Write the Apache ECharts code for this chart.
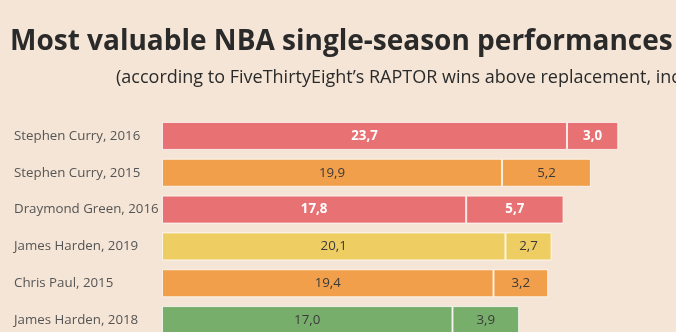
<!DOCTYPE html>
<html><head><meta charset="utf-8">
<script src="https://cdn.jsdelivr.net/npm/echarts@6/dist/echarts.min.js"></script>
<style>html,body{margin:0;padding:0;background:#f5e5d6;}#c{width:676px;height:332px;}</style>
</head><body><div id="c"></div>
<script>
const players = ["Stephen Curry, 2016","Stephen Curry, 2015","Draymond Green, 2016","James Harden, 2019","Chris Paul, 2015","James Harden, 2018"];
const regularSeason = [23.7, 19.9, 17.8, 20.1, 19.4, 17.0];
const playoffs = [3.0, 5.2, 5.7, 2.7, 3.2, 3.9];
const rowColors = ["#e87273","#f19f4b","#e87273","#eecd63","#f19f4b","#78ae6c"];
const lightText = ["#ffffff","#3a3a3a","#ffffff","#3a3a3a","#3a3a3a","#3a3a3a"];

const fmt = v => v.toFixed(1).replace('.', ',');
function mk(vals){
  return vals.map((v,i)=>({value:v,itemStyle:{color:rowColors[i]},label:{color:lightText[i],fontWeight:lightText[i]==='#ffffff'?'bold':'normal'}}));
}
const chart = echarts.init(document.getElementById('c'));
chart.setOption({
  backgroundColor:'#f5e5d6',
  animation:false,
  title:[
    {text:'Most valuable NBA single-season performances',left:5,top:23,textStyle:{fontFamily:'Open Sans',fontWeight:'bold',fontSize:28,color:'#2a2a2a'}},
    {text:'(according to FiveThirtyEight\u2019s RAPTOR wins above replacement, including playoffs)',left:111,top:64,textStyle:{fontFamily:'Open Sans',fontWeight:'normal',fontSize:18,color:'#2a2a2a'}}
  ],
  grid:{left:162,right:0,top:117.5,height:221,containLabel:false,outerBoundsMode:'none'},
  xAxis:{type:'value',min:0,max:30.08,show:false},
  yAxis:{type:'category',data:players,inverse:true,axisLine:{show:false},axisTick:{show:false},
    axisLabel:{align:'left',margin:148,fontFamily:'Open Sans',fontSize:13.3,color:'#555'}},
  series:[
    {type:'bar',stack:'t',data:mk(regularSeason),barWidth:28,
      itemStyle:{borderColor:'rgba(255,255,255,0.75)',borderWidth:1},
      label:{show:true,position:'inside',fontFamily:'Open Sans',fontSize:13.3,formatter:p=>fmt(p.value)}},
    {type:'bar',stack:'t',data:mk(playoffs),barWidth:28,
      itemStyle:{borderColor:'rgba(255,255,255,0.75)',borderWidth:1},
      label:{show:true,position:'inside',fontFamily:'Open Sans',fontSize:13.3,formatter:p=>fmt(p.value)}}
  ]
});
</script></body></html>
